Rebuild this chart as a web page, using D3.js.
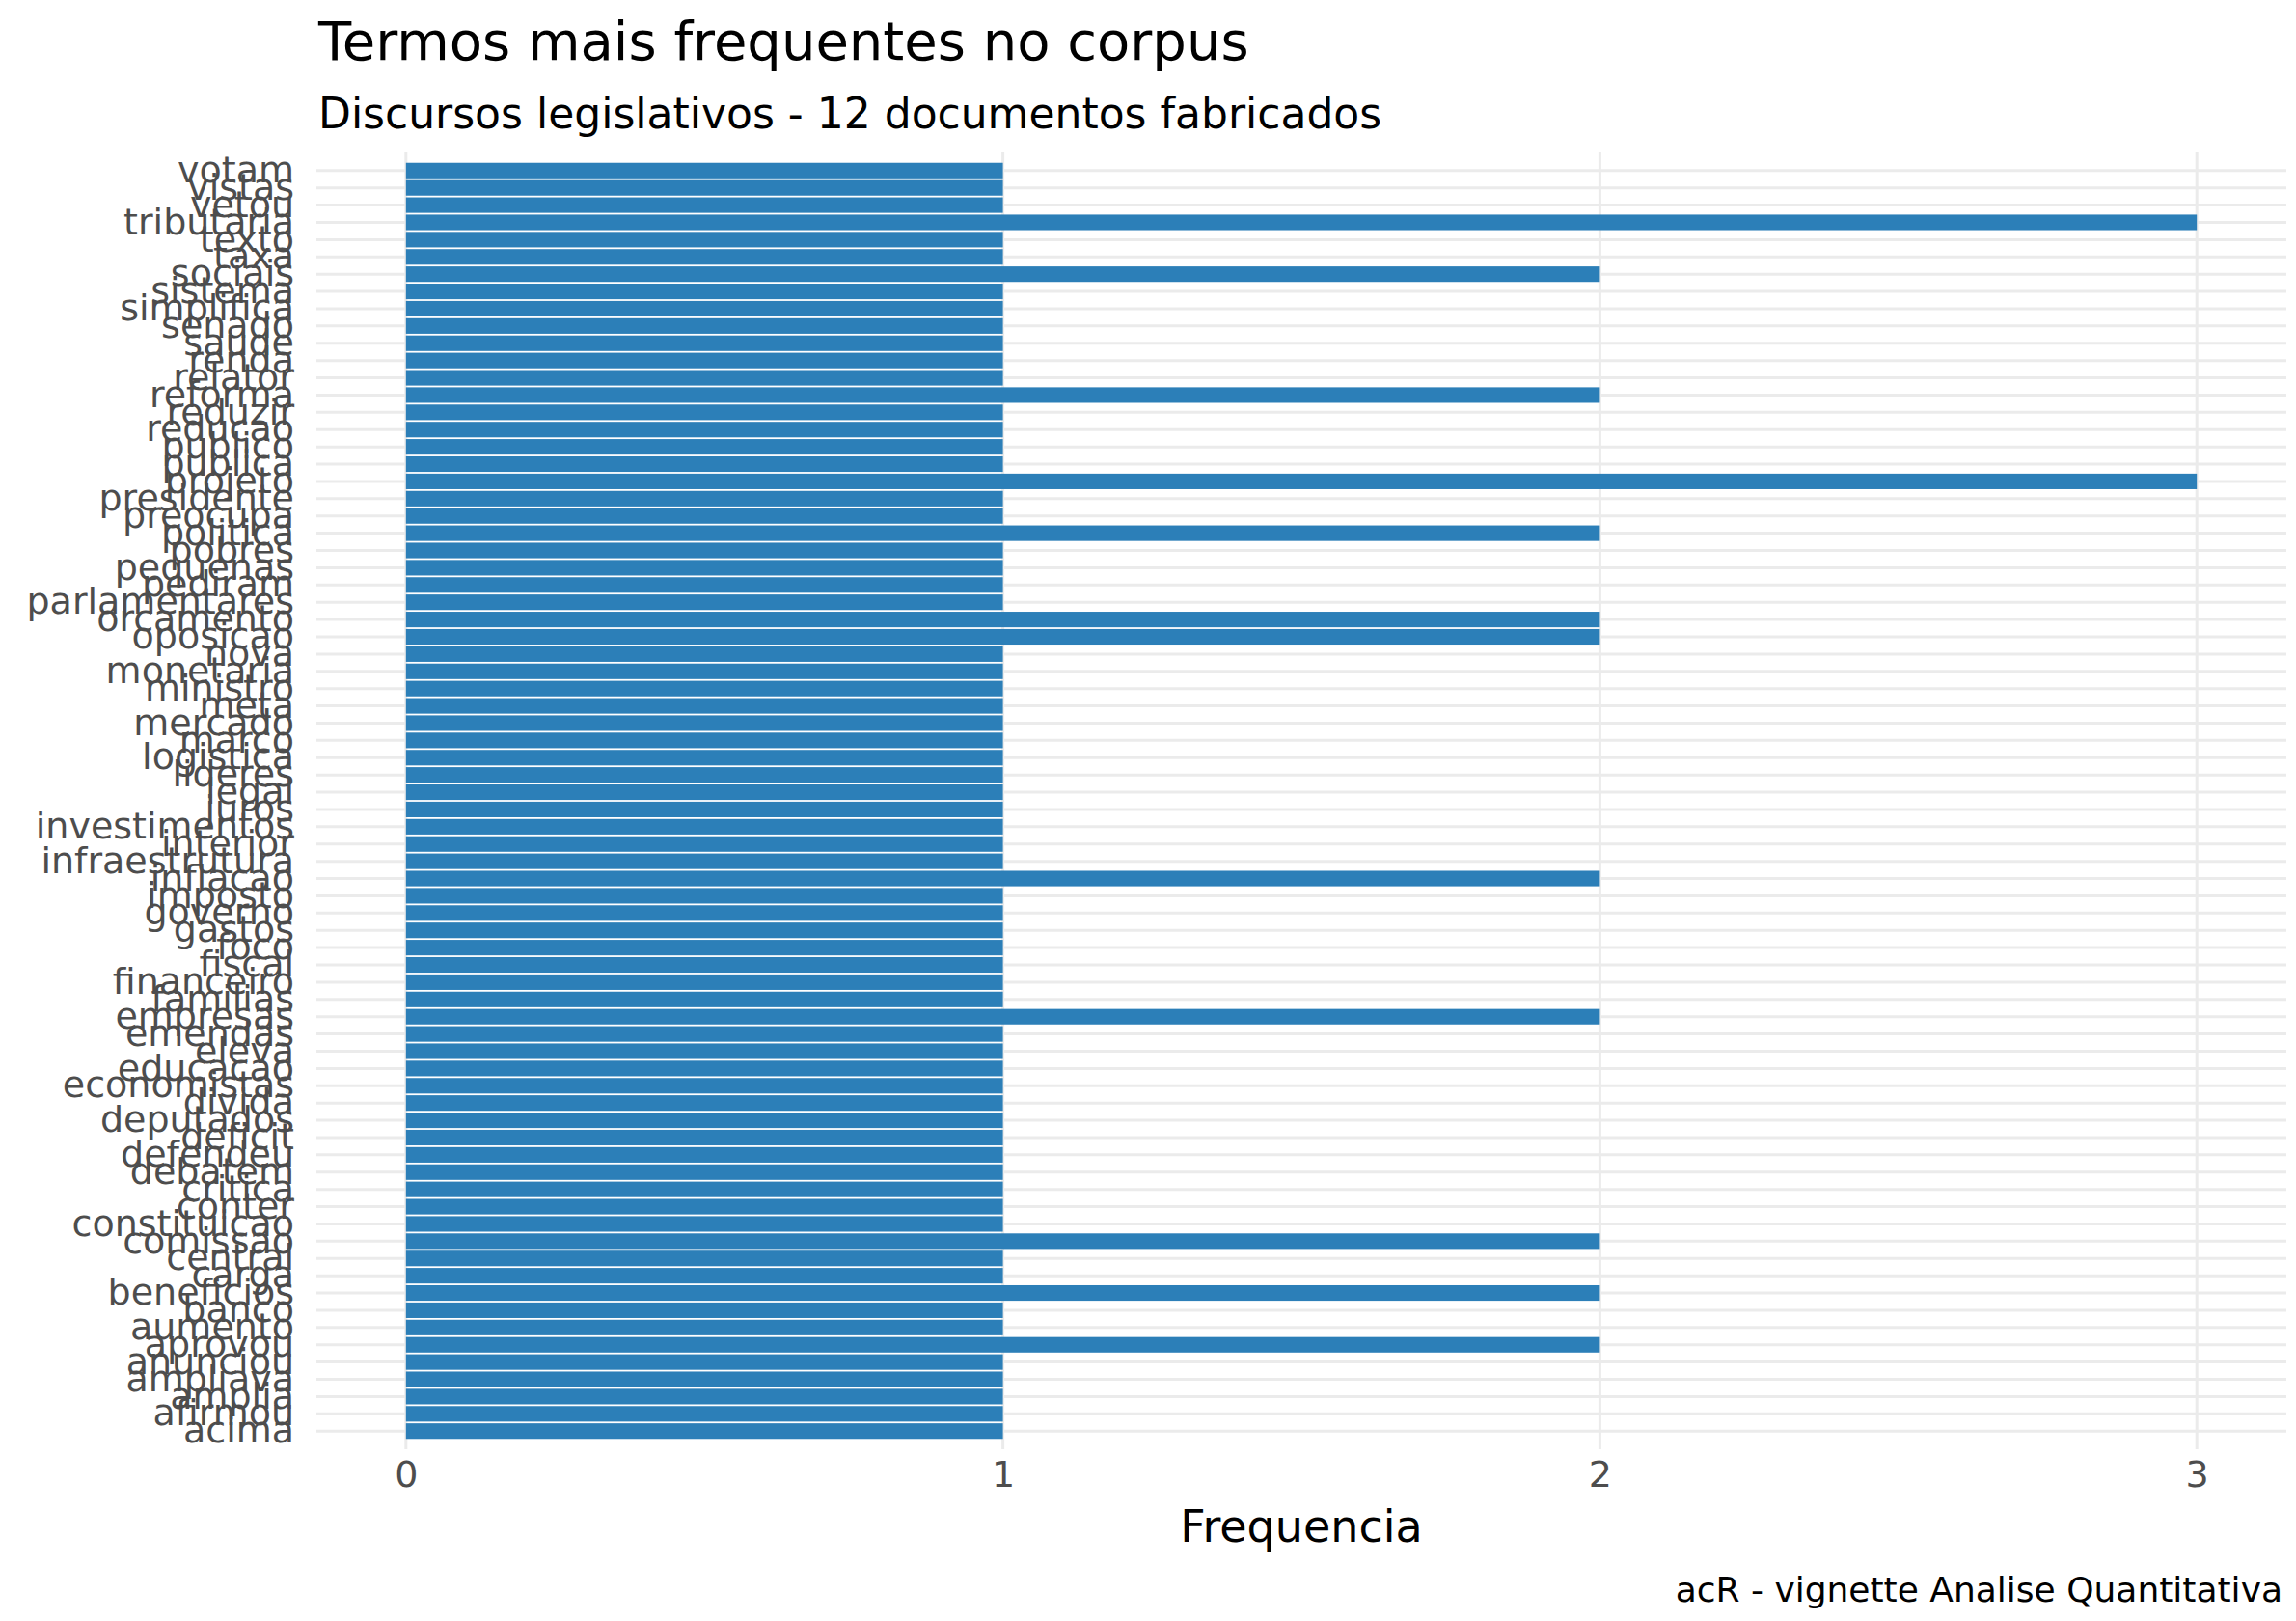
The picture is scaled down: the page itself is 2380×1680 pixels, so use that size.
<!DOCTYPE html>
<html>
<head>
<meta charset="utf-8">
<script src="https://cdn.jsdelivr.net/npm/d3@7"></script>
<style>
  body { margin: 0; background: #fff; }
  text { font-family: "DejaVu Sans", sans-serif; }
</style>
</head>
<body>
<svg id="chart" width="2380" height="1680"></svg>
<script>
// terms in axis order (bottom to top)
const termos = ["acima", "afirmou", "amplia", "ampliava", "anunciou", "aprovou", "aumento", "banco",
  "beneficios", "carga", "central", "comissao", "constituicao", "conter", "critica", "debatem",
  "defendeu", "deficit", "deputados", "divida", "economistas", "educacao", "eleva", "emendas",
  "empresas", "familias", "financeiro", "fiscal", "foco", "gastos", "governo", "imposto",
  "inflacao", "infraestrutura", "interior", "investimentos", "juros", "legal", "lideres",
  "logistica", "marco", "mercado", "meta", "ministro", "monetaria", "nova", "oposicao",
  "orcamento", "parlamentares", "pediram", "pequenas", "pobres", "politica", "preocupa",
  "presidente", "projeto", "publica", "publico", "reducao", "reduzir", "reforma", "relator",
  "renda", "saude", "senado", "simplifica", "sistema", "sociais", "taxa", "texto",
  "tributaria", "vetou", "vistas", "votam"];
const frequencia = [1, 1, 1, 1, 1, 2, 1, 1,
  2, 1, 1, 2, 1, 1, 1, 1,
  1, 1, 1, 1, 1, 1, 1, 1,
  2, 1, 1, 1, 1, 1, 1, 1,
  2, 1, 1, 1, 1, 1, 1,
  1, 1, 1, 1, 1, 1, 1, 2,
  2, 1, 1, 1, 1, 2, 1,
  1, 3, 1, 1, 1, 1, 2, 1,
  1, 1, 1, 1, 1, 2, 1, 1,
  3, 1, 1, 1];
const xTicks = [0, 1, 2, 3];

const data = termos.map((t, i) => ({termo: t, n: frequencia[i]}));

const svg = d3.select("#chart"),
    panel = {left: 328, right: 2370, top: 158, bottom: 1502};

const x = d3.scaleLinear().domain([-0.15, 3.15]).range([panel.left, panel.right]);
const y = d3.scaleBand()
    .domain(termos.slice().reverse())
    .range([panel.top, panel.bottom])
    .paddingInner(0.1)
    .paddingOuter(0.6);

// grid
svg.append("g").selectAll("line.h")
    .data(termos)
    .enter().append("line")
    .attr("x1", panel.left).attr("x2", panel.right)
    .attr("y1", d => y(d) + y.bandwidth() / 2)
    .attr("y2", d => y(d) + y.bandwidth() / 2)
    .attr("stroke", "#ebebeb").attr("stroke-width", 3);

svg.append("g").selectAll("line.v")
    .data(xTicks)
    .enter().append("line")
    .attr("x1", d => x(d)).attr("x2", d => x(d))
    .attr("y1", panel.top).attr("y2", panel.bottom)
    .attr("stroke", "#ebebeb").attr("stroke-width", 3);

// bars
svg.append("g").selectAll("rect")
    .data(data)
    .enter().append("rect")
    .attr("x", x(0))
    .attr("y", d => y(d.termo))
    .attr("width", d => x(d.n) - x(0))
    .attr("height", y.bandwidth())
    .attr("fill", "#2C7FB8");

// axes (no domain / tick lines, ggplot minimal)
const yAxis = svg.append("g")
    .attr("transform", "translate(305,0)")
    .call(d3.axisLeft(y).tickSize(0).tickPadding(0));
yAxis.select(".domain").remove();
yAxis.selectAll("text")
    .attr("font-size", 38).attr("fill", "#4d4d4d")
    .attr("font-family", "DejaVu Sans, sans-serif");

const xAxis = svg.append("g")
    .attr("transform", "translate(0," + (panel.bottom + 4) + ")")
    .call(d3.axisBottom(x).tickValues(xTicks).tickFormat(d3.format("d")).tickSize(0).tickPadding(8));
xAxis.select(".domain").remove();
xAxis.selectAll("text")
    .attr("font-size", 38).attr("fill", "#4d4d4d")
    .attr("font-family", "DejaVu Sans, sans-serif");

// titles
svg.append("text").attr("x", 330).attr("y", 62)
    .attr("font-size", 56).attr("fill", "#000")
    .text("Termos mais frequentes no corpus");
svg.append("text").attr("x", 330).attr("y", 133)
    .attr("font-size", 44).attr("fill", "#000")
    .text("Discursos legislativos - 12 documentos fabricados");
svg.append("text").attr("x", (panel.left + panel.right) / 2).attr("y", 1598)
    .attr("text-anchor", "middle").attr("font-size", 46).attr("fill", "#000")
    .text("Frequencia");
svg.append("text").attr("x", 2366).attr("y", 1660)
    .attr("text-anchor", "end").attr("font-size", 36).attr("fill", "#000")
    .text("acR - vignette Analise Quantitativa");
</script>
</body>
</html>
